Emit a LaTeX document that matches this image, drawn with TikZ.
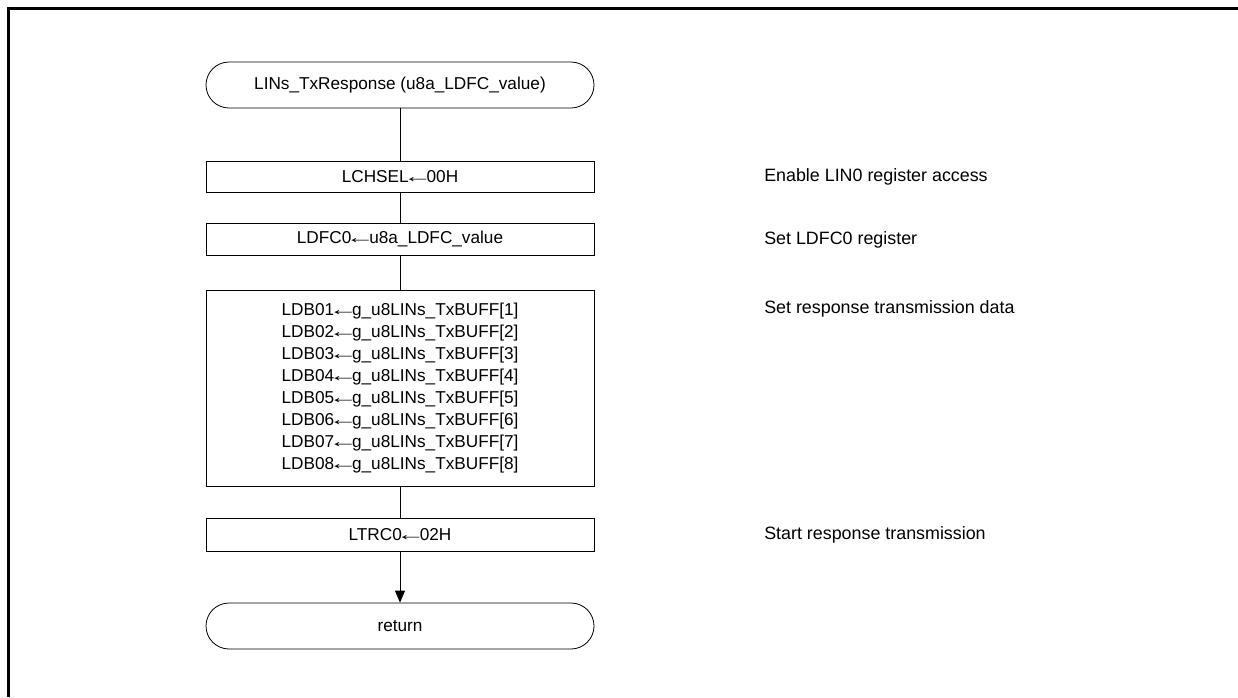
\documentclass[tikz,border=0pt]{standalone}
\usepackage{graphicx}
\usepackage{fontspec}
\setmainfont{Liberation Sans}
\usetikzlibrary{arrows.meta}
\newcommand{\la}{\kern-.33em\scalebox{1.7}[1]{←}\kern-.33em}
\begin{document}
\begin{tikzpicture}[x=0.75pt,y=-0.75pt,
  every node/.style={font=\fontsize{12.9}{16.5}\selectfont, inner sep=0pt},
  term/.style={draw, line width=0.6pt, rectangle, rounded corners=17.25pt, minimum width=291pt, minimum height=34.5pt},
  proc/.style={draw, line width=0.6pt, rectangle, minimum width=291pt},
  note/.style={anchor=west, font=\fontsize{13.4}{16.5}\selectfont},
  link/.style={line width=0.6pt},
  frameline/.style={line width=2.25pt}]
\useasboundingbox (0,0) rectangle (1238,697);
\coordinate (ftr) at (1238,8.5);
\coordinate (fc) at (8.5,8.5);
\coordinate (fbl) at (8.5,697);
\draw[frameline] (ftr) -- (fc) -- (fbl);

\node[term] (start) at (400,85) {LINs\_TxResponse (u8a\_LDFC\_value)};
\node[proc, minimum height=23.25pt] (s1) at (400,176.5) {LCHSEL\la 00H};
\node[proc, minimum height=24pt] (s2) at (400,239) {LDFC0\la u8a\_LDFC\_value};
\node[proc, minimum height=147pt, align=center] (s3) at (400,388) {LDB01\la g\_u8LINs\_TxBUFF[1]\\LDB02\la g\_u8LINs\_TxBUFF[2]\\LDB03\la g\_u8LINs\_TxBUFF[3]\\LDB04\la g\_u8LINs\_TxBUFF[4]\\LDB05\la g\_u8LINs\_TxBUFF[5]\\LDB06\la g\_u8LINs\_TxBUFF[6]\\LDB07\la g\_u8LINs\_TxBUFF[7]\\LDB08\la g\_u8LINs\_TxBUFF[8]};
\node[proc, minimum height=24.75pt] (s4) at (400,534.5) {LTRC0\la 02H};
\node[term] (ret) at (400,626) {return};

\draw[link] (start) -- (s1);
\draw[link] (s1) -- (s2);
\draw[link] (s2) -- (s3);
\draw[link] (s3) -- (s4);
\draw[link, -{Triangle[length=9pt,width=7.5pt]}] (s4) -- (ret);

\node[note] (n1) at (764,177) {Enable LIN0 register access};
\node[note] (n2) at (764,240) {Set LDFC0 register};
\node[note] (n3) at (764,309) {Set response transmission data};
\node[note] (n4) at (764,535) {Start response transmission};
\end{tikzpicture}
\end{document}
